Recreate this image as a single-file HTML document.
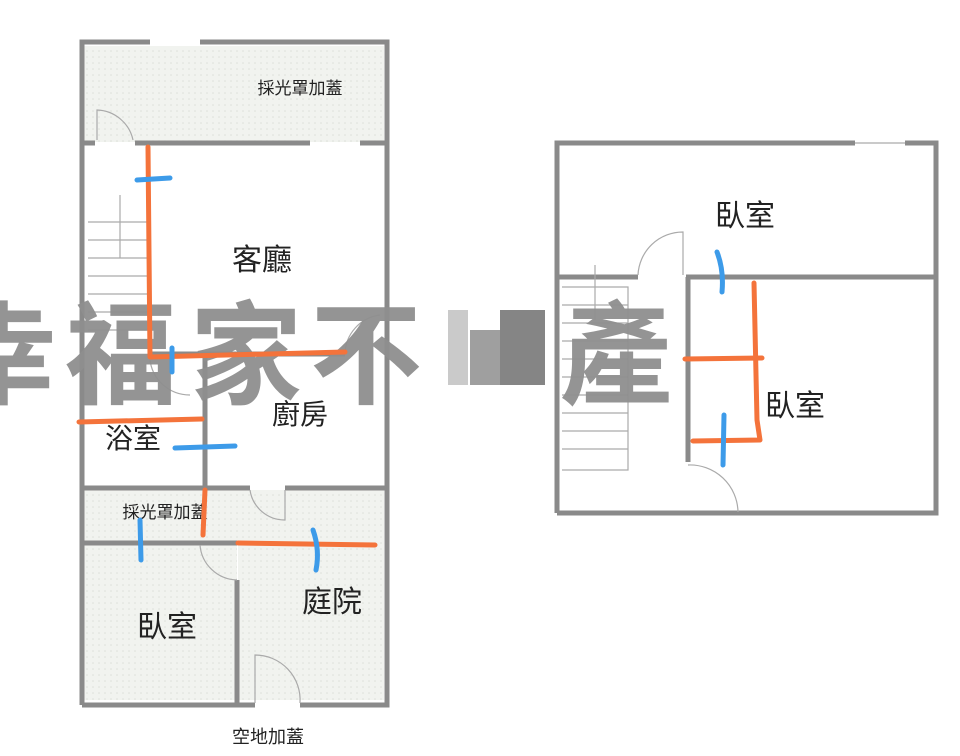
<!DOCTYPE html>
<html><head><meta charset="utf-8"><style>
html,body{margin:0;padding:0;background:#fff;width:960px;height:756px;overflow:hidden}
svg text{font-family:"Liberation Sans","Noto Sans CJK TC",sans-serif;fill:#222}
</style></head><body>
<svg width="960" height="756" viewBox="0 0 960 756" xmlns="http://www.w3.org/2000/svg">
<defs>
<pattern id="dots" width="6" height="6" patternUnits="userSpaceOnUse">
<rect width="6" height="6" fill="#f1f3ef"/><circle cx="3" cy="3" r="0.8" fill="#dde0da"/>
</pattern>
</defs>
<!-- LEFT PLAN -->
<rect x="84" y="46" width="300" height="96" fill="url(#dots)"/>
<rect x="84" y="490" width="300" height="52" fill="url(#dots)"/>
<rect x="84" y="545" width="153" height="155" fill="url(#dots)"/>
<rect x="238" y="490" width="146" height="210" fill="url(#dots)"/>
<g stroke="#8a8a8a" fill="none" stroke-width="5">
<path d="M82 705 V42 H150 M200 42 H387 V705 H300 M255 705 H82"/>
<path d="M82 143 H95 M135 143 H310 M360 143 H387"/>
<path d="M150 354 H345"/>
<path d="M205 355 V488"/>
<path d="M82 488 H250 M285 488 H387"/>
<path d="M82 543 H237"/>
<path d="M237 580 V705"/>
</g>
<g stroke="#aaa" fill="none" stroke-width="1.2">
<path d="M97 140 V110 A38 38 0 0 1 133 140"/>
<path d="M255 703 V655 A45 45 0 0 1 300 703"/>
<path d="M200 545 A38 38 0 0 0 237 580"/>
<path d="M250 490 A35 35 0 0 0 285 520 V490"/>
<path d="M345 354 A40 40 0 0 1 380 315"/>
<path d="M88 222 H150 V345 M88 240 H150 M88 258 H150 M88 276 H150 M88 294 H150 M88 312 H150 M88 330 H150 M120 195 V258"/>
<path d="M150 360 A40 40 0 0 0 190 395"/>
</g>
<!-- RIGHT PLAN -->
<g stroke="#8a8a8a" fill="none" stroke-width="5">
<path d="M557 513 V143 H855 M905 143 H936 V513 H557"/>
<path d="M557 277 H638 M686 277 H936"/>
<path d="M688 277 V462"/>
</g>
<g stroke="#aaa" fill="none" stroke-width="1.2">
<path d="M638 275 A45 45 0 0 1 683 232 V275"/>
<path d="M688 465 A48 48 0 0 1 738 512"/>
<path d="M562 287 H628 V470 H562 M562 305 H628 M562 323 H628 M562 341 H628 M562 359 H628 M562 377 H628 M562 395 H628 M562 413 H628 M562 431 H628 M562 449 H628 M595 265 V320"/>
<path d="M855 143 H905"/>
</g>
<!-- WATERMARK -->
<g fill="#8f8f8f" opacity="0.95">
<text x="-55" y="395" font-size="112" font-weight="bold" style="fill:#8f8f8f">幸</text>
<text x="65" y="395" font-size="112" font-weight="bold" style="fill:#8f8f8f">福</text>
<text x="190" y="395" font-size="112" font-weight="bold" style="fill:#8f8f8f">家</text>
<text x="310" y="395" font-size="112" font-weight="bold" style="fill:#8f8f8f">不</text>
<rect x="448" y="310" width="20" height="75" fill="#c8c8c8"/>
<rect x="470" y="330" width="30" height="55" fill="#9a9a9a"/>
<rect x="500" y="310" width="45" height="75" fill="#7f7f7f"/>
<text x="560" y="395" font-size="112" font-weight="bold" style="fill:#8f8f8f">產</text>
</g>
<!-- LABELS -->
<text x="300" y="94" font-size="17" text-anchor="middle">採光罩加蓋</text>
<text x="262" y="270" font-size="30" text-anchor="middle">客廳</text>
<text x="300" y="424" font-size="28" text-anchor="middle">廚房</text>
<text x="133" y="448" font-size="28" text-anchor="middle">浴室</text>
<text x="165" y="518" font-size="17" text-anchor="middle">採光罩加蓋</text>
<text x="332" y="612" font-size="30" text-anchor="middle">庭院</text>
<text x="167" y="637" font-size="30" text-anchor="middle">臥室</text>
<text x="268" y="743" font-size="18" text-anchor="middle">空地加蓋</text>
<text x="745" y="226" font-size="30" text-anchor="middle">臥室</text>
<text x="795" y="416" font-size="30" text-anchor="middle">臥室</text>
<!-- MARKUP LINES -->
<g fill="none" stroke-linecap="round" stroke-linejoin="round" stroke-width="5">
<g stroke="#f4733b">
<path d="M148 147 L150 357 L345 352"/>
<path d="M79 422 L202 419"/>
<path d="M205 490 L203 535"/>
<path d="M238 543 L375 545"/>
<path d="M754 283 L757 420 L760 440 L693 441"/>
<path d="M685 359 L762 358"/>
</g>
<g stroke="#3d9be9">
<path d="M137 180 L170 178"/>
<path d="M172 348 L172 372"/>
<path d="M175 448 L235 446"/>
<path d="M140 520 L141 560"/>
<path d="M313 530 Q320 550 316 570"/>
<path d="M717 252 Q724 270 722 292"/>
<path d="M724 415 L723 465"/>
</g>
</g>
</svg>
</body></html>
